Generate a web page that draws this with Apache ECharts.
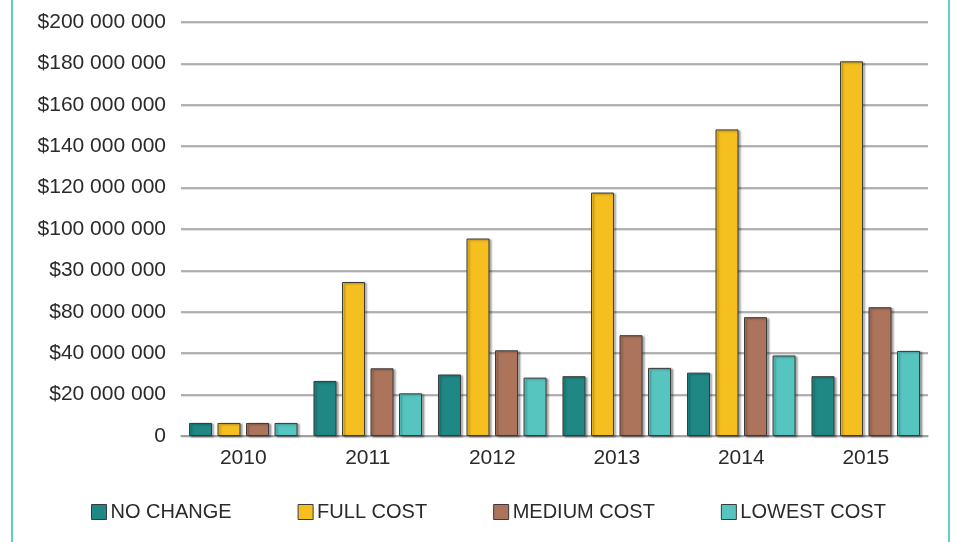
<!DOCTYPE html>
<html>
<head>
<meta charset="utf-8">
<script src="https://cdn.jsdelivr.net/npm/echarts@6/dist/echarts.min.js"></script>
<style>
  html, body { margin: 0; padding: 0; background: #fff; }
  #chart { width: 954px; height: 542px; }
</style>
</head>
<body>
<div id="chart"></div>
<script>
// data
const years = ['2010', '2011', '2012', '2013', '2014', '2015']
const noChange = [6300000, 26600000, 29700000, 28900000, 30600000, 28900000]
const fullCost = [6300000, 74400000, 95400000, 117600000, 148100000, 181000000]
const mediumCost = [6300000, 32700000, 41400000, 48700000, 57400000, 62200000]
const lowestCost = [6300000, 20600000, 28200000, 32900000, 38900000, 41100000]
// tick labels exactly as printed (including the odd ones)
const yTickLabels = ['0', '$20 000 000', '$40 000 000', '$80 000 000', '$30 000 000',
  '$100 000 000', '$120 000 000', '$140 000 000', '$160 000 000', '$180 000 000', '$200 000 000']

const font = 'Liberation Sans, Arial, sans-serif'
const textColor = '#2a2a2a'
const frameColor = '#5fcfca'

function barSeries (name, data, color) {
  return {
    name,
    type: 'bar',
    data,
    barWidth: 23,
    barGap: '24%',
    itemStyle: {
      color,
      borderColor: '#3a3a3a',
      borderWidth: 1,
      shadowColor: 'rgba(0,0,0,0.35)',
      shadowBlur: 2,
      shadowOffsetX: 2,
      shadowOffsetY: 1
    }
  }
}

const chart = echarts.init(document.getElementById('chart'))
chart.setOption({
  animation: false,
  backgroundColor: '#fff',
  grid: { left: 181, right: 26, top: 22, bottom: 106, containLabel: false },
  xAxis: {
    type: 'category',
    data: years,
    axisTick: { show: false },
    axisLine: { lineStyle: { color: '#9a9a9a', width: 1.5 } },
    axisLabel: { color: textColor, fontSize: 21, fontFamily: font, margin: 12 }
  },
  yAxis: {
    type: 'value',
    min: 0,
    max: 200000000,
    interval: 20000000,
    axisLine: { show: false },
    axisTick: { show: false },
    axisLabel: {
      color: textColor,
      fontSize: 21,
      fontFamily: font,
      margin: 15,
      formatter: v => yTickLabels[Math.round(v / 20000000)]
    },
    splitLine: {
      lineStyle: {
        color: '#9c9c9c',
        width: 1.5,
        shadowColor: 'rgba(0,0,0,0.15)',
        shadowOffsetY: 1
      }
    }
  },
  legend: {
    left: 91,
    top: 502,
    padding: 0,
    itemWidth: 15,
    itemHeight: 15,
    itemGap: 66,
    icon: 'rect',
    textStyle: { color: textColor, fontSize: 20, fontFamily: font, padding: [0, 0, 0, -1] },
    itemStyle: { borderColor: '#3a3a3a', borderWidth: 1 }
  },
  graphic: [
    { type: 'line', shape: { x1: 12, y1: 0, x2: 12, y2: 542 }, style: { stroke: frameColor, lineWidth: 2 } },
    { type: 'line', shape: { x1: 949, y1: 0, x2: 949, y2: 542 }, style: { stroke: frameColor, lineWidth: 2 } }
  ],
  series: [
    barSeries('NO CHANGE', noChange, '#1f8784'),
    barSeries('FULL COST', fullCost, '#f5bf1f'),
    barSeries('MEDIUM COST', mediumCost, '#ad745c'),
    barSeries('LOWEST COST', lowestCost, '#57c5bf')
  ]
})
</script>
</body>
</html>
